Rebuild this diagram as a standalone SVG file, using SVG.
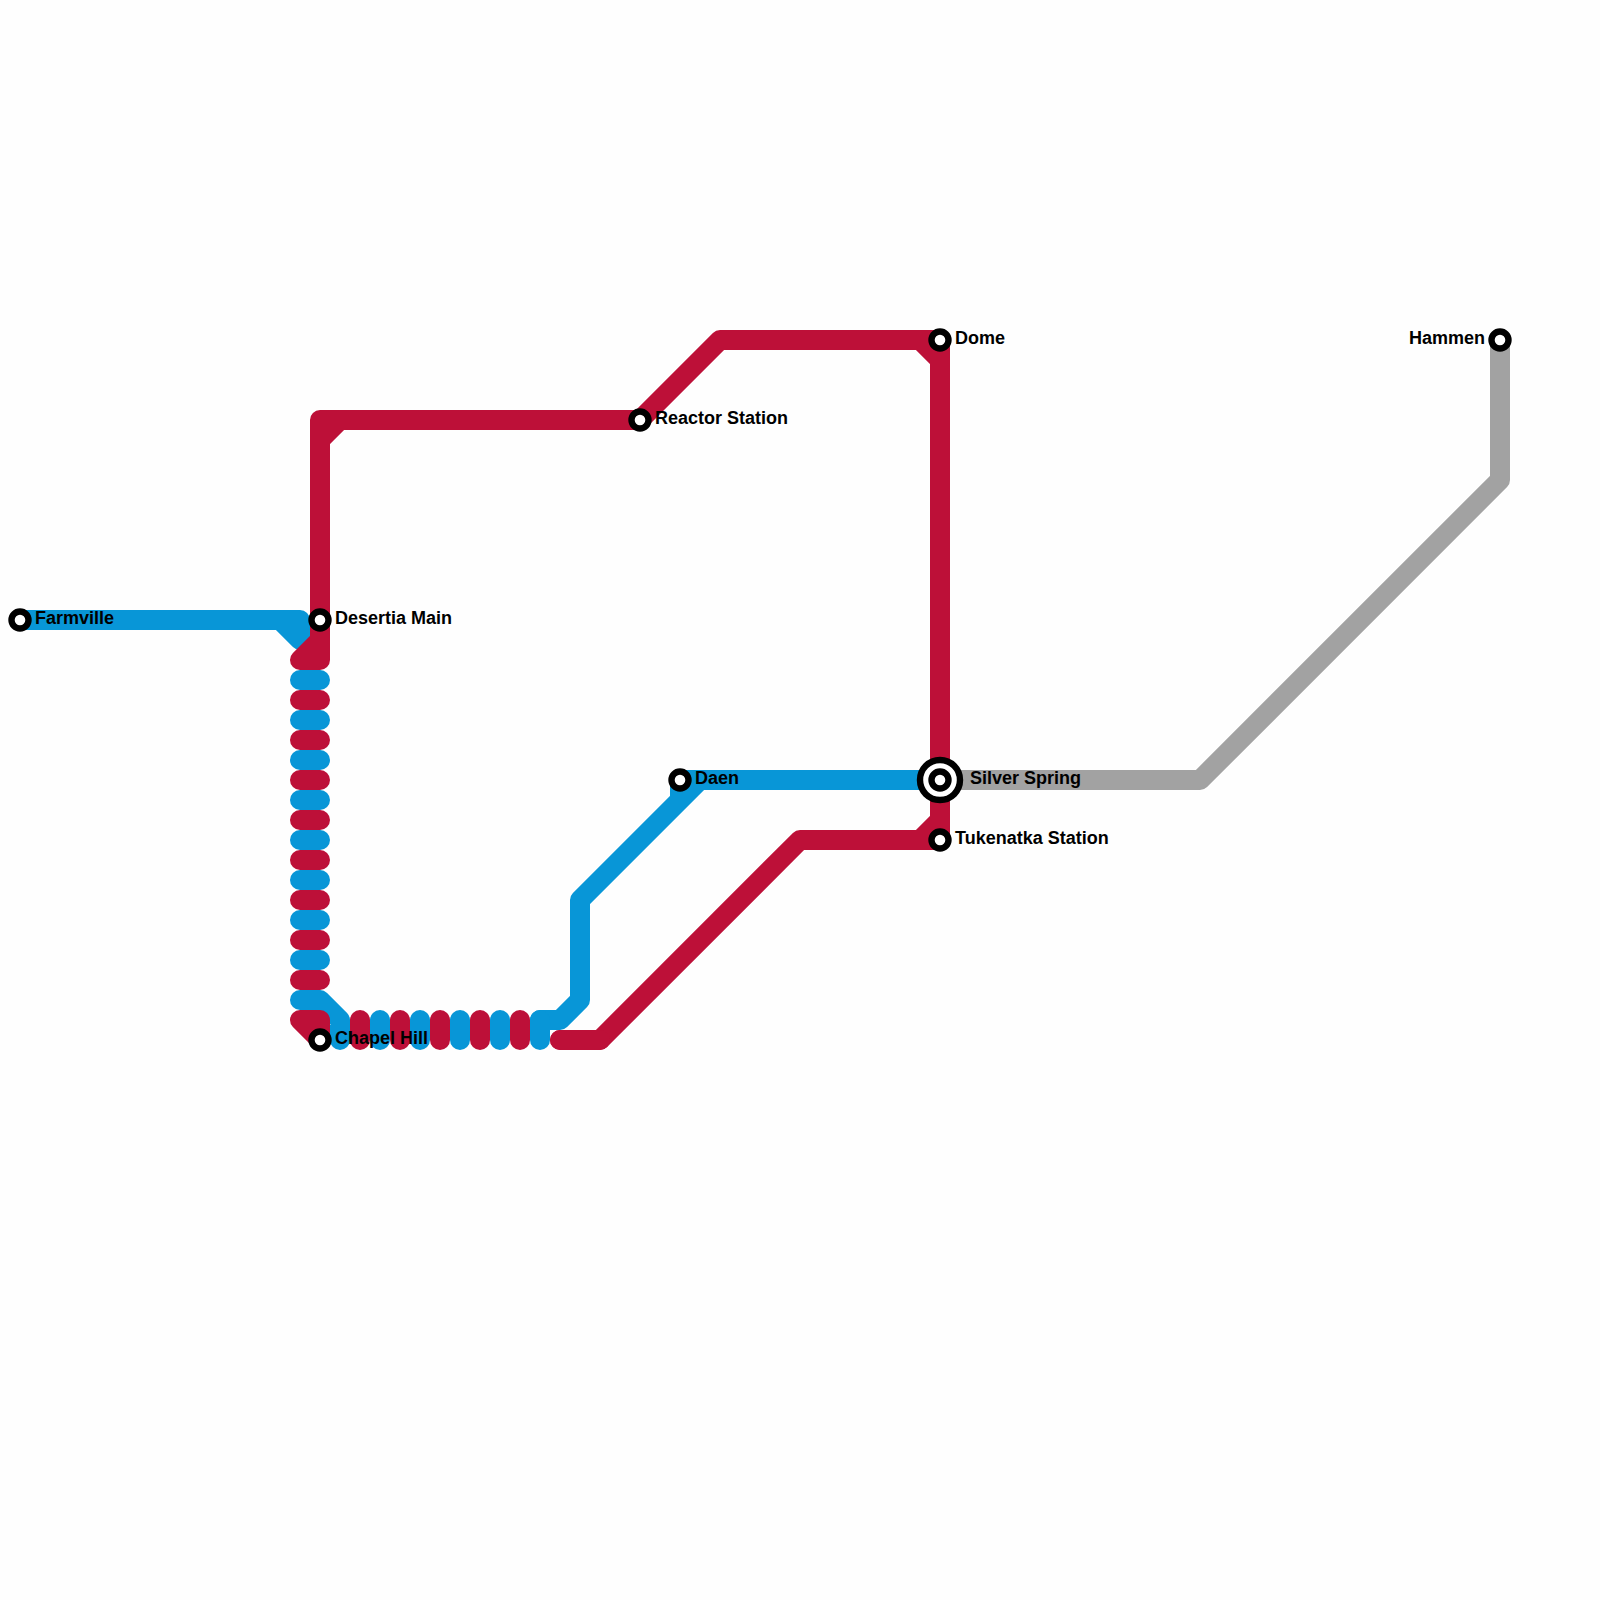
<svg xmlns="http://www.w3.org/2000/svg" width="1600" height="1600" viewBox="0 0 1600 1600">
<style>
.l{fill:none;stroke-width:20;stroke-linecap:round;stroke-linejoin:round}
.r{stroke:#bd1038}.b{stroke:#0896d7}.g{stroke:#a2a2a2}
.s{fill:#fff;stroke:#000;stroke-width:6.4}
text{font-family:"Liberation Sans",Arial,sans-serif;font-weight:700;font-size:18px;fill:#000}
</style>
<rect width="1600" height="1600" fill="#fefefe"/>
<g id="connectors">
<path class="l g" d="M940 780H1200L1500 480V340"/>
<path class="l b" d="M20 620H300M280 620L300 640M300 620V640"/>
<path class="l b" d="M940 780H680V800M700 780L580 900V1000L560 1020H540"/>
<path class="l r" d="M300 660L320 640M300 660H320V420H640L720 340H940V840H800L600 1040H560M320 440L340 420M920 340L940 360M920 840L940 820"/>
<path class="l b" d="M300 680H320M300 720H320M300 760H320M300 800H320M300 840H320M300 880H320M300 920H320M300 960H320M300 1000H320L340 1020V1040M380 1020V1040M420 1020V1040M460 1020V1040M500 1020V1040M540 1020V1040"/>
<path class="l r" d="M300 700H320M300 740H320M300 780H320M300 820H320M300 860H320M300 900H320M300 940H320M300 980H320M300 1020H320V1040L300 1020M360 1020V1040M400 1020V1040M440 1020V1040M480 1020V1040M520 1020V1040"/>
<path class="l r" d="M560 1040H600"/>
</g>
<g id="farmville"><circle class="s" cx="20" cy="620" r="8.5"/><text x="35" y="624">Farmville</text></g>
<g id="desertia-main"><circle class="s" cx="320" cy="620" r="8.5"/><text x="335" y="624">Desertia Main</text></g>
<g id="chapel-hill"><circle class="s" cx="320" cy="1040" r="8.5"/><text x="335" y="1044">Chapel Hill</text></g>
<g id="reactor-station"><circle class="s" cx="640" cy="420" r="8.5"/><text x="655" y="424">Reactor Station</text></g>
<g id="dome"><circle class="s" cx="940" cy="340" r="8.5"/><text x="955" y="344">Dome</text></g>
<g id="hammen"><circle class="s" cx="1500" cy="340" r="8.5"/><text x="1485" y="344" text-anchor="end">Hammen</text></g>
<g id="daen"><circle class="s" cx="680" cy="780" r="8.5"/><text x="695" y="784">Daen</text></g>
<g id="silver-spring"><circle class="s" cx="940" cy="780" r="20"/><circle class="s" cx="940" cy="780" r="8.5"/><text x="970" y="784">Silver Spring</text></g>
<g id="tukenatka-station"><circle class="s" cx="940" cy="840" r="8.5"/><text x="955" y="844">Tukenatka Station</text></g>
</svg>
